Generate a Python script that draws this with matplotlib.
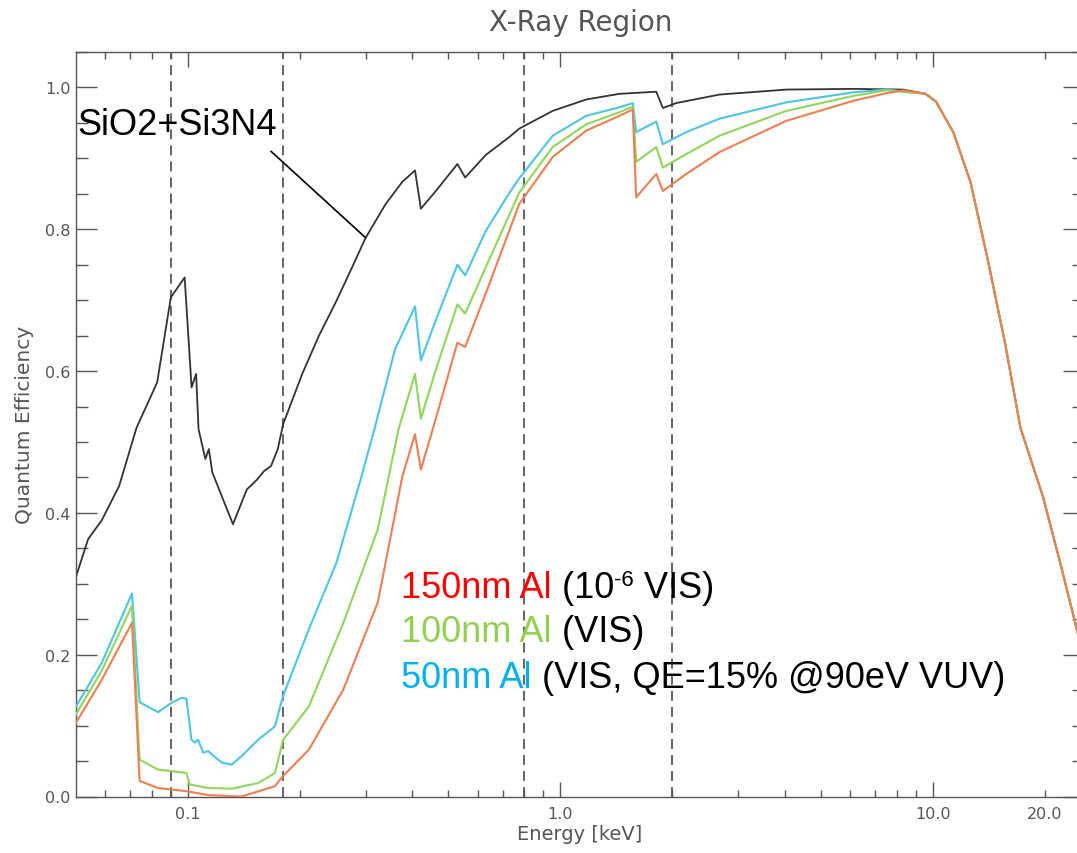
import matplotlib
matplotlib.use("Agg")
import matplotlib.pyplot as plt
import numpy as np

# ---- data (energy in keV, quantum efficiency) ----
BLACK_E = [0.05, 0.0539, 0.0587, 0.0653, 0.0727, 0.0826, 0.0899, 0.0979, 0.1022,
           0.1051, 0.1067, 0.1113, 0.1137, 0.1162, 0.1320, 0.1438, 0.1533, 0.160,
           0.167, 0.1742, 0.18, 0.2026, 0.2247, 0.2493, 0.2762, 0.2999, 0.3398,
           0.3765, 0.407, 0.422, 0.463, 0.529, 0.555, 0.631, 0.729, 0.776, 0.954,
           1.173, 1.441, 1.810, 1.885, 2.048, 2.678, 4.05, 6.11, 8.34]
BLACK_QE = [0.31, 0.363, 0.39, 0.438, 0.52, 0.584, 0.704, 0.732, 0.577,
            0.596, 0.518, 0.476, 0.49, 0.457, 0.384, 0.433, 0.447, 0.459,
            0.466, 0.49, 0.525, 0.596, 0.650, 0.697, 0.747, 0.788, 0.836,
            0.867, 0.883, 0.829, 0.854, 0.892, 0.873, 0.905, 0.930, 0.942, 0.967,
            0.983, 0.991, 0.994, 0.971, 0.978, 0.990, 0.997, 0.998, 0.997]

# common high-energy roll-off (all four curves overlap here)
ROLL_E = [9.57, 10.21, 11.36, 12.63, 14.05, 15.64, 17.21, 19.78, 22.0, 24.9]
ROLL_QE = [0.991, 0.98, 0.937, 0.867, 0.758, 0.64, 0.52, 0.423, 0.33, 0.217]

AL50_E = [0.05, 0.0587, 0.0707, 0.0741, 0.0830, 0.0902, 0.0960, 0.099, 0.1021,
          0.1042, 0.1064, 0.1098, 0.1132, 0.1230, 0.1309, 0.1392, 0.1543, 0.1711,
          0.18, 0.2111, 0.2504, 0.2907, 0.3166, 0.3598, 0.407, 0.422, 0.463,
          0.529, 0.555, 0.631, 0.729, 0.776, 0.954, 1.173, 1.441, 1.565, 1.598,
          1.810, 1.885, 2.179, 2.678, 4.05, 6.11, 7.52]
AL50_QE = [0.127, 0.189, 0.2865, 0.133, 0.119, 0.132, 0.139, 0.138, 0.080,
           0.076, 0.080, 0.062, 0.064, 0.048, 0.045, 0.057, 0.080, 0.099,
           0.142, 0.236, 0.33, 0.447, 0.518, 0.631, 0.691, 0.615, 0.672,
           0.750, 0.735, 0.798, 0.851, 0.872, 0.932, 0.960, 0.972, 0.978, 0.937,
           0.952, 0.920, 0.937, 0.956, 0.979, 0.993, 0.997]

AL100_E = [0.05, 0.0587, 0.0707, 0.0741, 0.083, 0.096, 0.099, 0.101, 0.1132,
           0.1309, 0.1543, 0.1711, 0.18, 0.2111, 0.2613, 0.3234, 0.3676, 0.407,
           0.422, 0.463, 0.529, 0.555, 0.631, 0.776, 0.954, 1.173, 1.441, 1.565,
           1.598, 1.810, 1.885, 2.179, 2.678, 4.05, 6.11, 7.52]
AL100_QE = [0.116, 0.178, 0.269, 0.052, 0.038, 0.034, 0.033, 0.017, 0.012,
            0.011, 0.019, 0.033, 0.080, 0.127, 0.245, 0.377, 0.518, 0.596,
            0.533, 0.602, 0.694, 0.681, 0.747, 0.852, 0.916, 0.948, 0.965, 0.973,
            0.895, 0.916, 0.887, 0.906, 0.932, 0.967, 0.988, 0.996]

AL150_E = [0.05, 0.0587, 0.0707, 0.0741, 0.083, 0.099, 0.1132, 0.1392, 0.1711,
           0.18, 0.2111, 0.2613, 0.3234, 0.3765, 0.407, 0.422, 0.463, 0.529,
           0.555, 0.631, 0.776, 0.954, 1.173, 1.441, 1.565, 1.598, 1.810, 1.885,
           2.179, 2.678, 4.05, 6.11, 7.52, 8.34]
AL150_QE = [0.104, 0.165, 0.245, 0.022, 0.012, 0.0075, 0.002, 0.0, 0.0145,
            0.029, 0.066, 0.151, 0.274, 0.452, 0.511, 0.461, 0.533, 0.640,
            0.634, 0.710, 0.836, 0.902, 0.939, 0.960, 0.969, 0.845, 0.878, 0.854,
            0.878, 0.909, 0.953, 0.981, 0.992, 0.996]

EDGES = [0.09, 0.18, 0.8, 2.0]   # dashed reference energies

X_MAJOR = [0.1, 1.0, 10.0]
X_MAJOR_LABELS = ["0.1", "1.0", "10.0"]
X_MINOR = [0.06, 0.07, 0.08, 0.09, 0.2, 0.3, 0.4, 0.5, 0.6, 0.7, 0.8, 0.9,
           2, 3, 4, 5, 6, 7, 8, 9, 20]
Y_MAJOR = [0.0, 0.2, 0.4, 0.6, 0.8, 1.0]

AXIS_GREY = "#555555"
C_BLACK = "#333333"
C_50 = "#4cc6e4"
C_100 = "#8fd65c"
C_150 = "#ee7f52"
T_RED = "#ff0000"
T_GREEN = "#92d050"
T_BLUE = "#00b0f0"

plt.rcParams["font.family"] = "DejaVu Sans"

fig = plt.figure(figsize=(10.77, 8.54), dpi=100)
W, H = 1077.0, 854.0
ax = fig.add_axes([76 / W, 1 - 797.5 / H, (1084 - 76) / W, (797.5 - 53) / H])

for e in EDGES:
    ax.axvline(e, color="#3a3a3a", lw=1.1, linestyle=(0, (6.5, 4.0)), zorder=1)

ax.plot(BLACK_E + ROLL_E, BLACK_QE + ROLL_QE, color=C_BLACK, lw=1.3, zorder=2)
ax.plot(AL50_E + ROLL_E, AL50_QE + ROLL_QE, color=C_50, lw=1.5, zorder=3)
ax.plot(AL100_E + ROLL_E, AL100_QE + ROLL_QE, color=C_100, lw=1.5, zorder=4)
ax.plot(AL150_E + ROLL_E, AL150_QE + ROLL_QE, color=C_150, lw=1.5, zorder=5)

ax.set_xscale("log")
ax.set_xlim(0.05, 25.5)
ax.set_ylim(0, 1.05)

ax.set_xticks(X_MAJOR)
ax.set_xticklabels(X_MAJOR_LABELS)
ax.set_xticks(X_MINOR, minor=True)
ax.set_xticklabels(["20.0" if v == 20 else "" for v in X_MINOR], minor=True)
ax.set_yticks(Y_MAJOR)
ax.set_yticklabels([f"{v:.1f}" for v in Y_MAJOR])
ax.set_yticks(np.arange(0, 1.051, 0.05), minor=True)

ax.tick_params(which="both", direction="in", top=True, right=True,
               color=AXIS_GREY, labelcolor=AXIS_GREY, labelsize=11.5, width=1.0)
ax.tick_params(axis="x", which="major", length=10.5, pad=7)
ax.tick_params(axis="x", which="minor", length=5, pad=7)
ax.tick_params(axis="y", which="major", length=15, pad=4)
ax.tick_params(axis="y", which="minor", length=8.5)
for sp in ax.spines.values():
    sp.set_color(AXIS_GREY)
    sp.set_linewidth(1.0)

ax.set_xlabel("Energy [keV]", fontsize=14, color=AXIS_GREY, labelpad=2)
ax.set_ylabel("Quantum Efficiency", fontsize=14.5, color=AXIS_GREY, labelpad=8)
fig.text(581 / W, 1 - 23 / H, "X-Ray Region", ha="center", va="center",
         fontsize=20, color=AXIS_GREY)

# annotation for the membrane curve
ANN_FONT = "Liberation Sans"
ax.text(0.0503, 0.934, "SiO2+Si3N4", fontsize=26, family=ANN_FONT,
        ha="left", va="baseline", color="black", zorder=6)
ax.annotate("", xy=(0.2999, 0.788), xytext=(0.167, 0.91),
            arrowprops=dict(arrowstyle="-", color="black", lw=1.2,
                            shrinkA=0, shrinkB=0))


def coloured_line(x, y, parts):
    """parts: list of (text, colour, superscript?) drawn left to right."""
    first = ax.text(x, y, parts[0][0], color=parts[0][1], fontsize=26,
                    family=ANN_FONT, ha="left", va="baseline", zorder=6)
    prev, base = first, first
    for s, c, sup in parts[1:]:
        if sup:
            t = ax.annotate(s, xy=(1, 0), xycoords=(prev, base),
                            xytext=(0, 10.5), textcoords="offset points",
                            fontsize=16, family=ANN_FONT, color=c,
                            ha="left", va="bottom", zorder=6)
        else:
            t = ax.annotate(s, xy=(1, 0), xycoords=(prev, base),
                            fontsize=26, family=ANN_FONT, color=c,
                            ha="left", va="bottom", zorder=6)
            base = t
        prev = t


coloured_line(0.3735, 0.282, [("150nm Al", T_RED, False), (" (10", "black", False),
                              ("-6", "black", True), (" VIS)", "black", False)])
coloured_line(0.3735, 0.219, [("100nm Al", T_GREEN, False), (" (VIS)", "black", False)])
coloured_line(0.3735, 0.154, [("50nm Al", T_BLUE, False),
                              (" (VIS, QE=15% @90eV VUV)", "black", False)])

fig.savefig("out.png", dpi=100)
